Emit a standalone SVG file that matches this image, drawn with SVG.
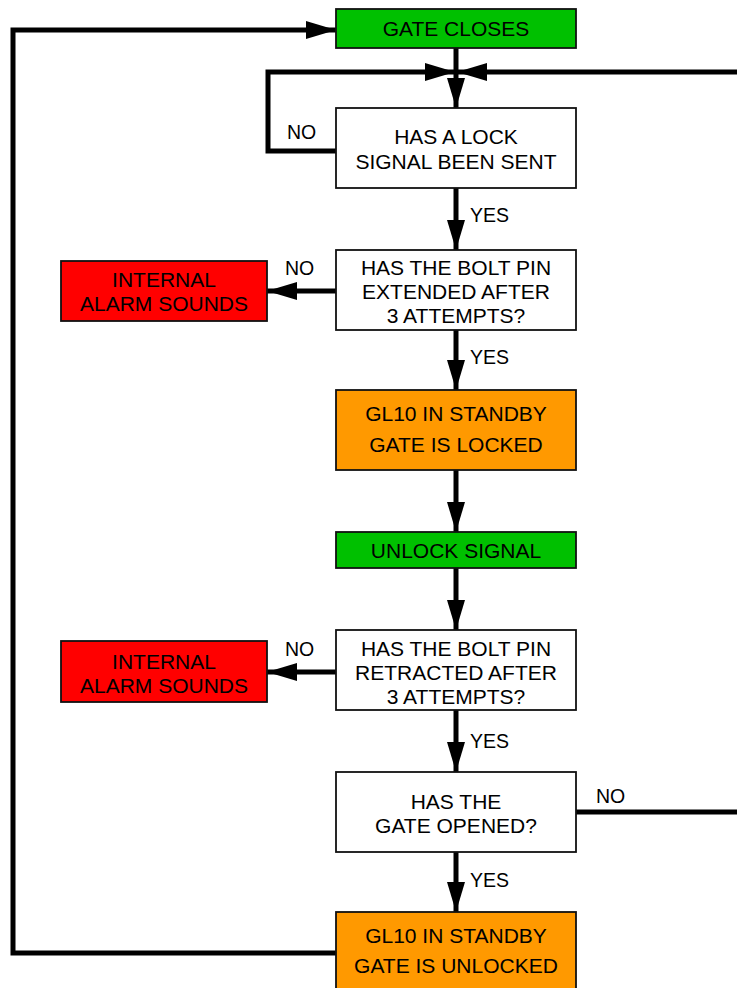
<svg xmlns="http://www.w3.org/2000/svg" width="737" height="988" viewBox="0 0 737 988">
<style>
.box{stroke:#111;stroke-width:1.8}
.w{fill:#fff}.g{fill:#00c000}.r{fill:#ff0000}.o{fill:#ff9900}
text{font-family:"Liberation Sans",Arial,sans-serif;font-size:21px;fill:#000;text-anchor:middle}
.lbl{font-size:19.5px;text-anchor:start}
.c{fill:none;stroke:#000;stroke-width:5}
</style>
<defs>
<marker id="ah" markerUnits="userSpaceOnUse" viewBox="0 0 30 18" refX="30" refY="9" markerWidth="30" markerHeight="18" orient="auto">
<path d="M0,0 L30,9 L0,18 Z" fill="#000"/>
</marker>
</defs>
<rect width="737" height="988" fill="#fff"/>
<g id="connectors">
<path class="c" d="M456,48 V108" marker-end="url(#ah)"/>
<path class="c" d="M336,151 H268 V72 H455" marker-end="url(#ah)"/>
<path class="c" d="M740,72 H457" marker-end="url(#ah)"/>
<path class="c" d="M456,188 V250" marker-end="url(#ah)"/>
<path class="c" d="M336,291 H267" marker-end="url(#ah)"/>
<path class="c" d="M456,330 V390" marker-end="url(#ah)"/>
<path class="c" d="M456,470 V532" marker-end="url(#ah)"/>
<path class="c" d="M456,568 V630" marker-end="url(#ah)"/>
<path class="c" d="M336,672 H267" marker-end="url(#ah)"/>
<path class="c" d="M456,710 V772" marker-end="url(#ah)"/>
<path class="c" d="M576,812 H740"/>
<path class="c" d="M456,852 V912" marker-end="url(#ah)"/>
<path class="c" d="M336,953 H13 V30 H336" marker-end="url(#ah)"/>
<text class="lbl" x="287" y="139">NO</text>
<text class="lbl" x="470" y="222">YES</text>
<text class="lbl" x="285" y="275">NO</text>
<text class="lbl" x="470" y="364">YES</text>
<text class="lbl" x="285" y="656">NO</text>
<text class="lbl" x="470" y="748">YES</text>
<text class="lbl" x="596" y="803">NO</text>
<text class="lbl" x="470" y="887">YES</text>
</g>
<g id="gate-closes"><rect class="box g" x="336" y="9" width="240" height="39"/><text x="456" y="36">GATE CLOSES</text></g>
<g id="lock-signal"><rect class="box w" x="336" y="108" width="240" height="80"/><text x="456" y="144">HAS A LOCK</text><text x="456" y="169">SIGNAL BEEN SENT</text></g>
<g id="bolt-extended"><rect class="box w" x="336" y="250" width="240" height="80"/><text x="456" y="275">HAS THE BOLT PIN</text><text x="456" y="299">EXTENDED AFTER</text><text x="456" y="323">3 ATTEMPTS?</text></g>
<g id="alarm-1"><rect class="box r" x="61" y="261" width="206" height="60"/><text x="164" y="287">INTERNAL</text><text x="164" y="311">ALARM SOUNDS</text></g>
<g id="standby-locked"><rect class="box o" x="336" y="390" width="240" height="80"/><text x="456" y="421">GL10 IN STANDBY</text><text x="456" y="452">GATE IS LOCKED</text></g>
<g id="unlock-signal"><rect class="box g" x="336" y="532" width="240" height="36"/><text x="456" y="558">UNLOCK SIGNAL</text></g>
<g id="bolt-retracted"><rect class="box w" x="336" y="630" width="240" height="80"/><text x="456" y="656">HAS THE BOLT PIN</text><text x="456" y="680">RETRACTED AFTER</text><text x="456" y="704">3 ATTEMPTS?</text></g>
<g id="alarm-2"><rect class="box r" x="61" y="641" width="206" height="61"/><text x="164" y="669">INTERNAL</text><text x="164" y="693">ALARM SOUNDS</text></g>
<g id="gate-opened"><rect class="box w" x="336" y="772" width="240" height="80"/><text x="456" y="809">HAS THE</text><text x="456" y="833">GATE OPENED?</text></g>
<g id="standby-unlocked"><rect class="box o" x="336" y="912" width="240" height="80"/><text x="456" y="943">GL10 IN STANDBY</text><text x="456" y="973">GATE IS UNLOCKED</text></g>
</svg>
